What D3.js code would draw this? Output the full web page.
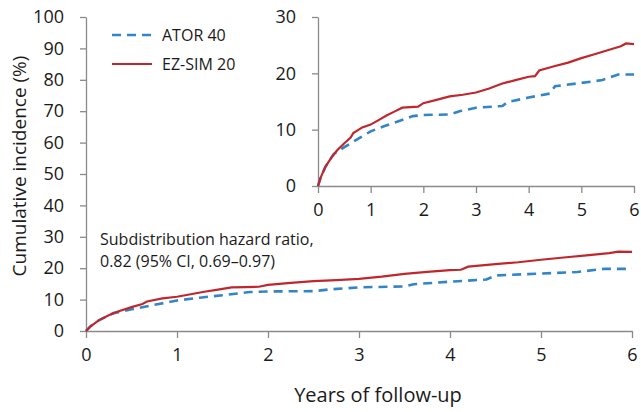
<!DOCTYPE html>
<html>
<head>
<meta charset="utf-8">
<script src="https://cdn.jsdelivr.net/npm/d3@7"></script>
<style>
  body { margin: 0; background: #fff; }
  svg text { font-family: "Open Sans", sans-serif; fill: #1a1a1a; }
  .axis path, .axis line { stroke: #8a8a8a; stroke-width: 1.3; }
  .axis text { font-size: 18px; }
</style>
</head>
<body>
<script>
// follow-up years and cumulative incidence (%)
let ezTime = [0, 0.05, 0.14, 0.25, 0.36, 0.5, 0.62, 0.67, 0.84, 1.0, 1.15, 1.3, 1.45, 1.6, 1.75, 1.9, 2.0, 2.25, 2.5, 2.75, 3.0, 3.25, 3.5, 3.75, 4.0, 4.12, 4.2, 4.5, 4.75, 5.0, 5.25, 5.5, 5.75, 5.85, 6.0];
let ezVal  = [0, 1.5, 3.4, 5.0, 6.3, 7.6, 8.6, 9.4, 10.4, 10.9, 11.7, 12.5, 13.2, 13.9, 14.0, 14.1, 14.7, 15.3, 15.9, 16.2, 16.6, 17.3, 18.2, 18.8, 19.4, 19.5, 20.5, 21.3, 21.9, 22.7, 23.4, 24.1, 24.8, 25.3, 25.2];

let atorTime = [0, 0.05, 0.14, 0.3, 0.5, 0.8, 1.0, 1.25, 1.5, 1.8, 2.0, 2.5, 2.7, 3.0, 3.5, 3.6, 4.0, 4.4, 4.5, 5.0, 5.4, 5.7, 6.0];
let atorVal  = [0, 1.5, 3.4, 5.7, 6.9, 8.6, 9.7, 10.6, 11.4, 12.4, 12.6, 12.7, 13.3, 13.9, 14.2, 14.9, 15.7, 16.4, 17.7, 18.3, 18.8, 19.8, 19.8];

let seriesNames = ["ATOR 40", "EZ-SIM 20"];
let xTicks = [0, 1, 2, 3, 4, 5, 6];
let mainYTicks = [0, 10, 20, 30, 40, 50, 60, 70, 80, 90, 100];
let insetYTicks = [0, 10, 20, 30];
let noteLines = ["Subdistribution hazard ratio,", "0.82 (95% CI, 0.69\u20130.97)"];

let blue = "#3385c6", red = "#c0272d";

let svg = d3.select("body").append("svg")
    .attr("width", 641)
    .attr("height", 412);

let series = [
    {name: seriesNames[0], pts: atorTime.map((t, i) => [t, atorVal[i]]), color: blue, dash: "9,6", w: 2.6},
    {name: seriesNames[1], pts: ezTime.map((t, i) => [t, ezVal[i]]), color: red, dash: null, w: 2.2}
];

function panel(x, y, yTicks, g) {
    g.append("g")
        .attr("class", "axis")
        .attr("transform", "translate(0," + y(0) + ")")
        .call(d3.axisBottom(x).tickValues(xTicks).tickFormat(d3.format("d"))
            .tickSize(7).tickSizeOuter(0).tickPadding(7))
        .selectAll("text").attr("dy", "0.9em");

    g.append("g")
        .attr("class", "axis")
        .attr("transform", "translate(" + x(0) + ",0)")
        .call(d3.axisLeft(y).tickValues(yTicks).tickSize(6).tickSizeOuter(0).tickPadding(16));

    let line = d3.line()
        .x(d => x(d[0]))
        .y(d => y(d[1]));

    series.forEach(function (s) {
        g.append("path")
            .datum(s.pts)
            .attr("fill", "none")
            .attr("stroke", s.color)
            .attr("stroke-width", s.w)
            .attr("stroke-dasharray", s.dash)
            .attr("d", line);
    });
}

// main chart
let x = d3.scaleLinear().domain([0, 6]).range([86, 632]);
let y = d3.scaleLinear().domain([0, 100]).range([331, 17]);
panel(x, y, mainYTicks, svg.append("g"));

// inset
let xi = d3.scaleLinear().domain([0, 6]).range([318, 634]);
let yi = d3.scaleLinear().domain([0, 30]).range([186, 17]);
panel(xi, yi, insetYTicks, svg.append("g"));

// axis titles
svg.append("text")
    .attr("transform", "translate(26,166) rotate(-90)")
    .attr("text-anchor", "middle")
    .style("font-size", "19px")
    .text("Cumulative incidence (%)");

svg.append("text")
    .attr("x", 378)
    .attr("y", 402)
    .attr("text-anchor", "middle")
    .style("font-size", "20px")
    .text("Years of follow-up");

// legend
let legend = svg.append("g");
series.forEach(function (s, i) {
    let ly = 35 + i * 29;
    legend.append("line")
        .attr("x1", 112).attr("x2", 152)
        .attr("y1", ly).attr("y2", ly)
        .attr("stroke", s.color)
        .attr("stroke-width", s.w)
        .attr("stroke-dasharray", s.dash);
    legend.append("text")
        .attr("x", 162)
        .attr("y", ly + 6)
        .style("font-size", "16px")
        .text(s.name);
});

// hazard ratio note
svg.append("g").selectAll("text")
    .data(noteLines)
    .join("text")
    .attr("x", 100)
    .attr("y", (d, i) => 245 + i * 22)
    .style("font-size", "16px")
    .text(d => d);
</script>
</body>
</html>
